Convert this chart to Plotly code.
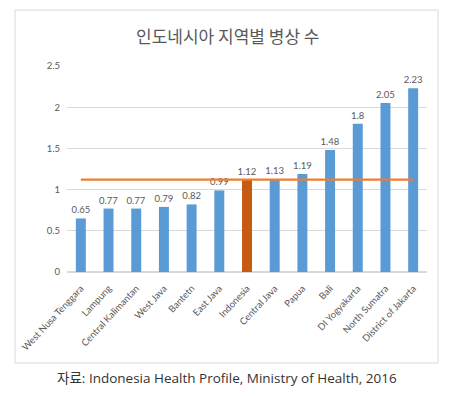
import plotly.graph_objects as go

categories = ["West Nusa Tenggara", "Lampung", "Central Kalimantan", "West Java", "Bantetn",
              "East Java", "Indonesia", "Central Java", "Papua", "Bali", "DI Yogyakarta",
              "North Sumatra", "District of Jakarta"]
values = [0.65, 0.77, 0.77, 0.79, 0.82, 0.99, 1.12, 1.13, 1.19, 1.48, 1.8, 2.05, 2.23]
national_avg = 1.12
highlight = "Indonesia"

W, H = 449, 396
L, R, T, B = 67, 22, 66, 124
pw, ph = W - L - R, H - T - B

def px_x(px):
    return (px - L) / pw

def px_y(py):
    return (H - B - py) / ph

colors = ["#C55A11" if c == highlight else "#5B9BD5" for c in categories]
gray = "#595959"

fig = go.Figure()
fig.add_trace(go.Bar(
    x=categories, y=values, marker_color=colors, marker_line_width=0,
    text=[f"{v:g}" for v in values], textposition="outside", constraintext="none",
    textfont=dict(family="Lato, sans-serif", size=9.5, color=gray),
    cliponaxis=False, width=0.36,
))
fig.add_trace(go.Scatter(
    x=categories, y=[national_avg] * len(categories), mode="lines",
    line=dict(color="#ED7D31", width=2.2), hoverinfo="skip",
))

fig.update_layout(
    width=W, height=H, margin=dict(l=L, r=R, t=T, b=B, autoexpand=False),
    paper_bgcolor="white", plot_bgcolor="white", showlegend=False,
    xaxis=dict(tickangle=-47, tickfont=dict(family="Lato, sans-serif", size=9.5, color=gray),
               showgrid=False, showline=False, ticks="", ticklabelstandoff=8,
               fixedrange=True, automargin=False),
    yaxis=dict(range=[0, 2.5], dtick=0.5, tickfont=dict(family="Lato, sans-serif", size=9.5, color=gray),
               gridcolor="#d9d9d9", gridwidth=1, zeroline=True, zerolinecolor="#d9d9d9",
               showline=False, ticks="", ticklabelstandoff=6, fixedrange=True, automargin=False),
    shapes=[dict(type="rect", xref="paper", yref="paper",
                 x0=px_x(15), x1=px_x(438), y0=px_y(363), y1=px_y(10),
                 line=dict(color="#d9d9d9", width=1), layer="below")],
    annotations=[
        dict(text="인도네시아 지역별 병상 수", xref="paper", yref="paper",
             x=px_x(227), y=px_y(35), xanchor="center", yanchor="middle", showarrow=False,
             font=dict(family="Noto Sans CJK KR, sans-serif", size=17, color=gray)),
        dict(text="자료: Indonesia Health Profile, Ministry of Health, 2016", xref="paper", yref="paper",
             x=px_x(227), y=px_y(378), xanchor="center", yanchor="middle", showarrow=False,
             font=dict(family="Open Sans, Noto Sans CJK KR, sans-serif", size=13.5, color="#333333")),
    ],
)

fig.write_html("out.html", config={"displayModeBar": False},
               post_script="document.body.style.margin='0';document.body.style.overflow='hidden';")
